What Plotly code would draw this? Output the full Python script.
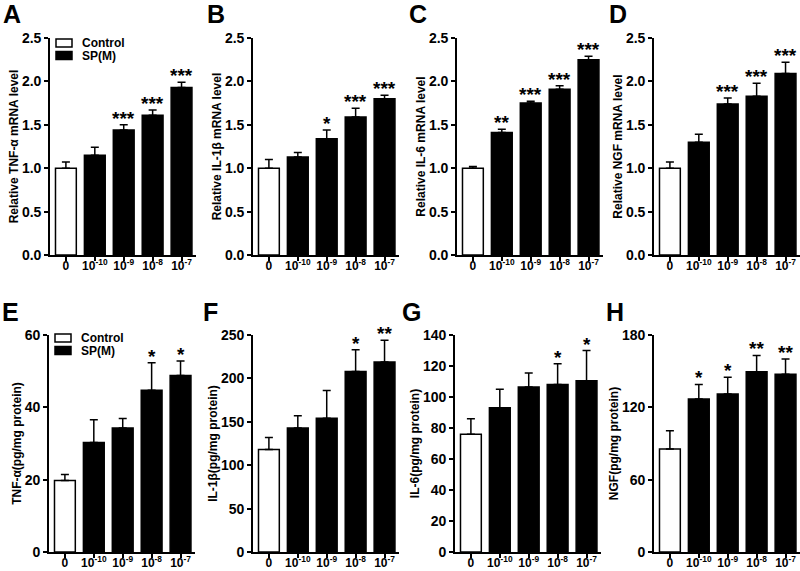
import plotly.graph_objects as go

categories = ["0", "1e-10", "1e-9", "1e-8", "1e-7"]
tick_labels = ["0", "10<sup>-10</sup>", "10<sup>-9</sup>", "10<sup>-8</sup>", "10<sup>-7</sup>"]
legend_names = ["Control", "SP(M)"]

# Panel values (mean) and upper error
tnf_mrna = [1.00, 1.15, 1.44, 1.61, 1.93]
tnf_mrna_err = [0.07, 0.09, 0.06, 0.06, 0.06]
tnf_mrna_sig = ["", "", "***", "***", "***"]

il1b_mrna = [1.00, 1.13, 1.34, 1.59, 1.80]
il1b_mrna_err = [0.10, 0.05, 0.10, 0.10, 0.04]
il1b_mrna_sig = ["", "", "*", "***", "***"]

il6_mrna = [1.00, 1.41, 1.75, 1.91, 2.25]
il6_mrna_err = [0.02, 0.04, 0.02, 0.04, 0.04]
il6_mrna_sig = ["", "**", "***", "***", "***"]

ngf_mrna = [1.00, 1.30, 1.74, 1.83, 2.09]
ngf_mrna_err = [0.07, 0.09, 0.07, 0.15, 0.13]
ngf_mrna_sig = ["", "", "***", "***", "***"]

tnf_prot = [19.8, 30.3, 34.3, 44.7, 48.8]
tnf_prot_err = [1.6, 6.3, 2.6, 7.6, 4.0]
tnf_prot_sig = ["", "", "", "*", "*"]

il1b_prot = [118, 143, 154, 208, 219]
il1b_prot_err = [14, 14, 32, 25, 25]
il1b_prot_sig = ["", "", "", "*", "**"]

il6_prot = [76, 93, 106.5, 108, 110.5]
il6_prot_err = [10, 12, 9, 13.5, 19.5]
il6_prot_sig = ["", "", "", "*", "*"]

ngf_prot = [85.5, 127, 131, 149.5, 147.5]
ngf_prot_err = [15, 12, 14, 13.5, 12.5]
ngf_prot_sig = ["", "*", "*", "**", "**"]

panels = [
    dict(letter="A", vals=tnf_mrna, err=tnf_mrna_err, sig=tnf_mrna_sig,
         title="Relative TNF-α mRNA level", ticks=[0, 0.5, 1.0, 1.5, 2.0, 2.5], fmt=".1f", legend=True),
    dict(letter="B", vals=il1b_mrna, err=il1b_mrna_err, sig=il1b_mrna_sig,
         title="Relative IL-1β mRNA level", ticks=[0, 0.5, 1.0, 1.5, 2.0, 2.5], fmt=".1f", legend=False),
    dict(letter="C", vals=il6_mrna, err=il6_mrna_err, sig=il6_mrna_sig,
         title="Relative IL-6 mRNA level", ticks=[0, 0.5, 1.0, 1.5, 2.0, 2.5], fmt=".1f", legend=False),
    dict(letter="D", vals=ngf_mrna, err=ngf_mrna_err, sig=ngf_mrna_sig,
         title="Relative NGF mRNA level", ticks=[0, 0.5, 1.0, 1.5, 2.0, 2.5], fmt=".1f", legend=False),
    dict(letter="E", vals=tnf_prot, err=tnf_prot_err, sig=tnf_prot_sig,
         title="TNF-α(pg/mg protein)", ticks=[0, 20, 40, 60], fmt="d", legend=True),
    dict(letter="F", vals=il1b_prot, err=il1b_prot_err, sig=il1b_prot_sig,
         title="IL-1β(pg/mg protein)", ticks=[0, 50, 100, 150, 200, 250], fmt="d", legend=False),
    dict(letter="G", vals=il6_prot, err=il6_prot_err, sig=il6_prot_sig,
         title="IL-6(pg/mg protein)", ticks=[0, 20, 40, 60, 80, 100, 120, 140], fmt="d", legend=False),
    dict(letter="H", vals=ngf_prot, err=ngf_prot_err, sig=ngf_prot_sig,
         title="NGF(pg/mg protein)", ticks=[0, 60, 120, 180], fmt="d", legend=False),
]

W, H = 800, 571
FONT = "Liberation Sans, Arial, sans-serif"
axis_left_px = [50, 253, 457, 654, 49, 253, 455, 654]
plot_w_px = 146
row_top_px = [38, 335]
row_bot_px = [255, 552]
letter_pos = [(12, 14), (216, 14), (418, 14), (618, 14), (10, 312), (210, 312), (411, 312), (615, 312)]
# legend box tops (px) for the two legend panels
legend_top_px = {0: 39, 4: 334}

fig = go.Figure()
annotations = []
shapes = []


def px_x(v):
    return v / W


def px_y(v):
    return 1 - v / H


for i, p in enumerate(panels):
    n = i + 1
    xa = "x" if n == 1 else f"x{n}"
    ya = "y" if n == 1 else f"y{n}"
    row = 0 if i < 4 else 1
    common = dict(xaxis=xa, yaxis=ya, marker_line=dict(color="black", width=1.5), showlegend=False)
    err_ctrl = dict(type="data", symmetric=False, array=[p["err"][0]], arrayminus=[0],
                    color="black", thickness=1.5, width=4)
    err_sp = dict(type="data", symmetric=False, array=p["err"][1:], arrayminus=[0] * 4,
                  color="black", thickness=1.5, width=4)
    fig.add_trace(go.Bar(x=categories[:1], y=p["vals"][:1], name=legend_names[0], marker_color="white",
                         error_y=err_ctrl, **common))
    fig.add_trace(go.Bar(x=categories[1:], y=p["vals"][1:], name=legend_names[1], marker_color="black",
                         error_y=err_sp, **common))

    x0 = px_x(axis_left_px[i])
    x1 = px_x(axis_left_px[i] + plot_w_px)
    y0 = px_y(row_bot_px[row])
    y1 = px_y(row_top_px[row])
    fig.layout[f"xaxis{'' if n == 1 else n}"] = dict(
        domain=[x0, x1], anchor=ya, type="category", categoryorder="array", categoryarray=categories,
        range=[-0.55, 4.5], tickmode="array", tickvals=categories, ticktext=tick_labels,
        showline=True, linecolor="black", linewidth=1.6, ticks="outside", ticklen=4,
        tickwidth=1.5, tickcolor="black", showgrid=False, zeroline=False, automargin=False,
        ticklabelstandoff=-5,
        tickfont=dict(family=FONT, size=12, color="black", weight="bold"),
    )
    fig.layout[f"yaxis{'' if n == 1 else n}"] = dict(
        domain=[y0, y1], anchor=xa, range=[0, p["ticks"][-1]], tickmode="array",
        tickvals=p["ticks"], tickformat=p["fmt"],
        showline=True, linecolor="black", linewidth=1.6, ticks="outside", ticklen=4,
        tickwidth=1.5, tickcolor="black", showgrid=False, zeroline=False, automargin=False,
        tickfont=dict(family=FONT, size=14, color="black", weight="bold"),
        title=dict(text=p["title"], font=dict(family=FONT, size=12, color="black", weight="bold"),
                   standoff=1),
    )
    for k, (v, e, s) in enumerate(zip(p["vals"], p["err"], p["sig"])):
        if s:
            annotations.append(dict(x=k, y=v + e, xref=xa, yref=ya, text=s, showarrow=False,
                                    yanchor="bottom", yshift=-6,
                                    font=dict(family=FONT, size=19, color="black", weight="bold")))
    lx, ly = letter_pos[i]
    annotations.append(dict(x=px_x(lx), y=px_y(ly), xref="paper", yref="paper", text=p["letter"],
                            showarrow=False, xanchor="center", yanchor="middle",
                            font=dict(family=FONT, size=25, color="black", weight="bold")))

    if p["legend"]:
        top = legend_top_px[i]
        bx0 = axis_left_px[i] + 6
        for j, (name, color) in enumerate(zip(legend_names, ["white", "black"])):
            t = top + j * 12.5
            shapes.append(dict(type="rect", xref="paper", yref="paper",
                               x0=px_x(bx0), x1=px_x(bx0 + 16), y0=px_y(t + 8), y1=px_y(t),
                               line=dict(color="black", width=1.5), fillcolor=color))
            annotations.append(dict(x=px_x(bx0 + 24), y=px_y(t + 4), xref="paper", yref="paper",
                                    text=name, showarrow=False, xanchor="left", yanchor="middle",
                                    font=dict(family=FONT, size=12, color="black", weight="bold")))

fig.update_layout(
    width=W, height=H, margin=dict(l=0, r=0, t=0, b=0, autoexpand=False),
    paper_bgcolor="white", plot_bgcolor="white",
    barmode="overlay", bargap=0.28,
    annotations=annotations, shapes=shapes,
    showlegend=False,
    font=dict(family=FONT, color="black"),
)

fig.write_html("out.html", config={"displayModeBar": False},
               post_script="document.body.style.margin='0';")
